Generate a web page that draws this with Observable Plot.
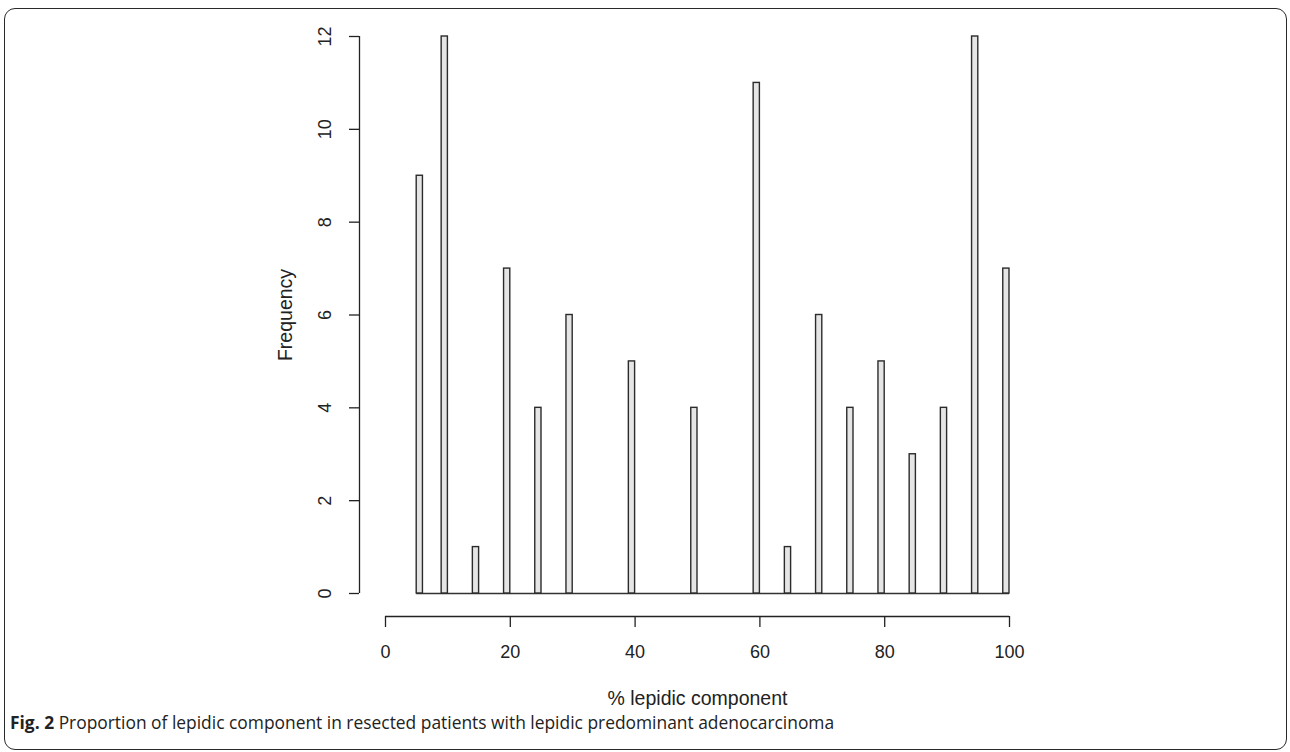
<!DOCTYPE html>
<html>
<head>
<meta charset="utf-8">
<script src="https://cdn.jsdelivr.net/npm/d3@7"></script>
<script src="https://cdn.jsdelivr.net/npm/@observablehq/plot@0.6"></script>
<style>
  html, body { margin: 0; padding: 0; background: #fff; }
  #wrap { position: relative; width: 1290px; height: 752px; overflow: hidden; }
  #frame { position: absolute; left: 4px; top: 8px; width: 1283px; height: 742px;
           border: 1.8px solid #2a2a2a; border-radius: 11px; box-sizing: border-box; }
  #chart { position: absolute; left: 0; top: 0; }
  #caption { position: absolute; left: 10px; top: 710px; font-family: "Open Sans", sans-serif;
             font-size: 17.4px; color: #222; white-space: nowrap; }
  #caption b { font-weight: 700; }
</style>
</head>
<body>
<div id="wrap">
  <div id="frame"></div>
  <div id="chart"></div>
  <div id="caption"><b>Fig. 2</b> Proportion of lepidic component in resected patients with lepidic predominant adenocarcinoma</div>
</div>
<script>
// Histogram bins (1% wide) that hold observations, and their counts
const binStart = [5, 9, 14, 19, 24, 29, 39, 49, 59, 64, 69, 74, 79, 84, 89, 94, 99];
const binEnd   = [6, 10, 15, 20, 25, 30, 40, 50, 60, 65, 70, 75, 80, 85, 90, 95, 100];
const counts   = [9, 12, 1, 7, 4, 6, 5, 4, 11, 1, 6, 4, 5, 3, 4, 12, 7];
const xTicks = [0, 20, 40, 60, 80, 100];
const yTicks = [0, 2, 4, 6, 8, 10, 12];
const histRange = [5, 100];

const bars = binStart.map((s, i) => ({x1: s, x2: binEnd[i], count: counts[i]}));

const font = "'Liberation Sans', Arial, Helvetica, sans-serif";
const axisColor = "#222";

const chart = Plot.plot({
  width: 1290,
  height: 710,
  marginLeft: 385,
  marginRight: 281,
  marginTop: 36,
  marginBottom: 117,
  style: {fontFamily: font, fontSize: "18px", color: "#222", background: "transparent"},
  x: {domain: [0, 100], axis: null},
  y: {domain: [0, 12], axis: null},
  marks: [
    // baseline of empty bins
    Plot.ruleY([0], {x1: histRange[0], x2: histRange[1], stroke: "#333", strokeWidth: 1.3}),
    Plot.rectY(bars, {x1: "x1", x2: "x2", y: "count", fill: "#e5e5e5", stroke: "#2b2b2b", strokeWidth: 1.4}),
    // y axis (R style, offset)
    Plot.ruleX([0], {y1: yTicks[0], y2: yTicks[yTicks.length - 1], dx: -26, stroke: axisColor, strokeWidth: 1.3}),
    Plot.axisY(yTicks, {tickSize: 10, dx: -26, tickFormat: () => "", stroke: axisColor, strokeWidth: 1.3, label: null}),
    Plot.text(yTicks, {x: 0, y: d => d, text: d => String(d), rotate: -90, dx: -60, textAnchor: "middle", lineAnchor: "middle", fill: "#222", fontSize: 18}),
    // x axis (R style, offset)
    Plot.ruleY([0], {x1: xTicks[0], x2: xTicks[xTicks.length - 1], dy: 23, stroke: axisColor, strokeWidth: 1.3}),
    Plot.axisX(xTicks, {tickSize: 11, dy: 23, tickFormat: () => "", stroke: axisColor, strokeWidth: 1.3, label: null}),
    Plot.text(xTicks, {x: d => d, y: 0, text: d => String(d), dy: 59, lineAnchor: "middle", fill: "#222", fontSize: 18}),
    // axis titles
    Plot.text(["Frequency"], {frameAnchor: "left", dx: -100, rotate: -90, lineAnchor: "middle", textAnchor: "middle", fill: "#222", fontSize: 19.5}),
    Plot.text(["% lepidic component"], {frameAnchor: "bottom", dy: 105, lineAnchor: "middle", fill: "#222", fontSize: 19.5})
  ]
});
document.getElementById("chart").appendChild(chart);
</script>
</body>
</html>
